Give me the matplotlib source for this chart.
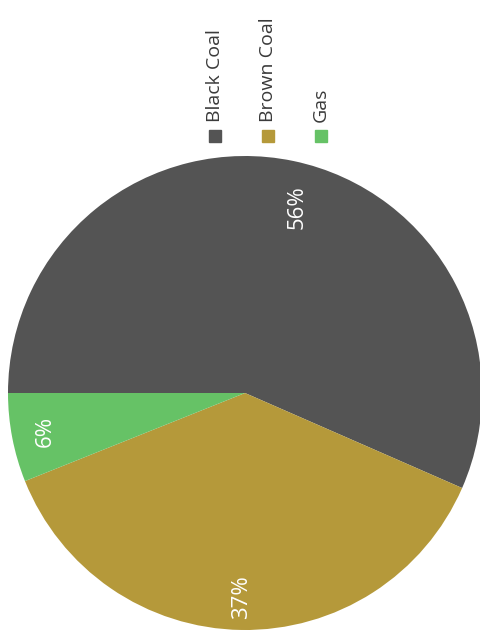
import matplotlib.pyplot as plt
from matplotlib.patches import Rectangle

# data
labels = ['Black Coal', 'Brown Coal', 'Gas']
shares = [56, 37, 6]
colors = ['#545454', '#b5993a', '#66c266']

plt.rcParams['font.family'] = ['Open Sans', 'DejaVu Sans']

fig = plt.figure(figsize=(4.8, 6.37), dpi=100)
ax = fig.add_axes([0, 0, 1, 1])

# chart is scanned rotated by 90 degrees
wedges, texts, autotexts = ax.pie(shares, colors=colors, startangle=180,
                                  counterclock=False, center=(245, 244),
                                  radius=237, autopct='%d', pctdistance=0.86,
                                  wedgeprops=dict(linewidth=0),
                                  textprops=dict(color='white', fontsize=16,
                                                 rotation=90))
for t, v in zip(autotexts, shares):
    t.set_text(f'{v}%')
    t.set_rotation(90)
    t.set_ha('center')
    t.set_va('center')
# excel put the big label a bit further right
autotexts[0].set_position((297, 637 - 207))

ax.set_xlim(0, 480)
ax.set_ylim(0, 637)
ax.set_aspect('equal')
ax.axis('off')

# legend, rotated as well
leg_x = [215, 268, 321]
for x, lab, c in zip(leg_x, labels, colors):
    ax.add_patch(Rectangle((x - 6, 637 - 142), 12, 12, color=c))
    ax.text(x, 637 - 122, lab, rotation=90, ha='center', va='bottom',
            fontsize=14, color='#3a3a3a')

fig.savefig('out.png', dpi=100)
